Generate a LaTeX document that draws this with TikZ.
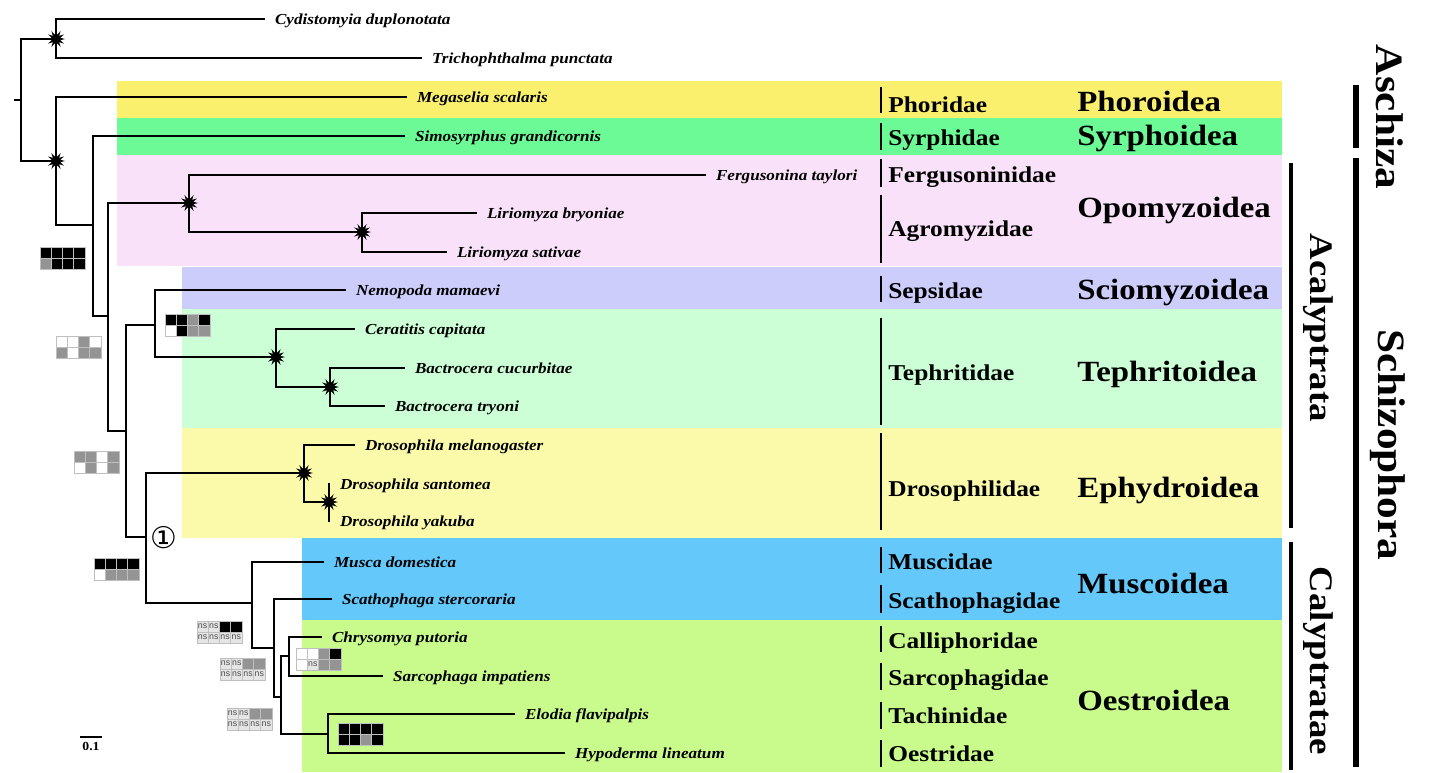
\documentclass[tikz,border=0pt]{standalone}
\usepackage{fontspec}
\setmainfont{Liberation Serif}[FakeStretch=1.12]
\setsansfont{Liberation Sans}
\newfontfamily\circfont{DejaVu Sans}
\usetikzlibrary{shapes.geometric,calc}

\definecolor{bgPhor}{HTML}{FAF06E}
\definecolor{bgSyrp}{HTML}{6CFA96}
\definecolor{bgOpom}{HTML}{F9E2F9}
\definecolor{bgScio}{HTML}{CCCDFB}
\definecolor{bgTeph}{HTML}{CCFFD5}
\definecolor{bgEphy}{HTML}{FAFAAA}
\definecolor{bgMusc}{HTML}{64C8FA}
\definecolor{bgOest}{HTML}{C8FA8C}
\colorlet{cB}{black}
\colorlet{cG}{black!42}
\colorlet{cW}{white}
\colorlet{cN}{black!10}

\tikzset{
  br/.style={line width=1.2pt},
  bstar/.style={star, star points=12, star point ratio=2.1, fill=black, draw=black, line width=0.4pt, inner sep=0, minimum size=0.3cm},
  sp/.style={anchor=west, inner xsep=5.5pt, inner ysep=0, text height=5.7pt, text depth=0pt, font=\fontsize{8.7}{10}\selectfont\bfseries\itshape},
  fam/.style={anchor=base west, inner sep=0, font=\fontsize{12.9}{14}\selectfont\bfseries},
  famb/.style={line width=1.5pt},
  supf/.style={anchor=base west, inner sep=0, font=\fontsize{16.7}{18}\selectfont\bfseries},
  clade/.style={rotate=-90, anchor=base, inner sep=0, font=\fontsize{22}{24}\selectfont\bfseries},
  subclade/.style={rotate=-90, anchor=base, inner sep=0, font=\fontsize{18.7}{20}\selectfont\bfseries},
  cladeb/.style={line width=3pt},
  subcladeb/.style={line width=2.2pt},
  cell/.style={draw=black!25, line width=0.5pt, inner sep=0, minimum width=0.225cm, minimum height=0.22cm}
}

\def\nscode{N}
% support values: 4x2 cells, B black, G grey, W white, N ns
\newcommand{\supgrid}[3]{%
  \foreach \code [count=\i from 0] in {#3}{%
    \pgfmathtruncatemacro{\col}{mod(\i,4)}%
    \pgfmathtruncatemacro{\row}{floor(\i/4)}%
    \ifx\code\nscode
      \node[cell, fill=cN, text=black!70, font=\sffamily\fontsize{5}{5}\selectfont] (#1-\i) at ($(#2)+(\col*11.25+5.6,\row*11+5.5)$) {ns};
    \else
      \node[cell, fill=c\code] (#1-\i) at ($(#2)+(\col*11.25+5.6,\row*11+5.5)$) {};
    \fi
  }}

\begin{document}
\begin{tikzpicture}[x=0.02cm, y=-0.02cm]
\useasboundingbox (0,0) rectangle (1430,772);

\fill[bgPhor] (117,81) rectangle (1282,118);
\fill[bgSyrp] (117,118) rectangle (1282,155);
\fill[bgOpom] (117,155) rectangle (1282,266);
\fill[bgScio] (182,267) rectangle (1282,309);
\fill[bgTeph] (182,309) rectangle (1282,428);
\fill[bgEphy] (182,428) rectangle (1282,538);
\fill[bgMusc] (302,538) rectangle (1282,620);
\fill[bgOest] (302,620) rectangle (1282,772);

\coordinate (stub) at (14,100);
\coordinate (root) at (21,100);
\coordinate (nA) at (56,39);
\coordinate (nB) at (56,161);
\coordinate (nC) at (93,225);
\coordinate (nD) at (108,316);
\coordinate (nF) at (189,203);
\coordinate (nG) at (362,232);
\coordinate (nE) at (126,431);
\coordinate (nH) at (155,325);
\coordinate (nJ) at (276,357);
\coordinate (nK) at (330,387);
\coordinate (nI) at (146,537);
\coordinate (nL) at (304,473);
\coordinate (nM) at (329,502);
\coordinate (nN) at (252,603);
\coordinate (nO) at (274,648);
\coordinate (nP) at (281,697);
\coordinate (nQ) at (289,656);
\coordinate (nR) at (328,734);

\node[sp] (cyd) at (265,19) {Cydistomyia duplonotata};
\node[sp] (tri) at (422,58) {Trichophthalma punctata};
\node[sp] (meg) at (407,97) {Megaselia scalaris};
\node[sp] (sim) at (405,136) {Simosyrphus grandicornis};
\node[sp] (fer) at (706,175) {Fergusonina taylori};
\node[sp] (lbr) at (477,213) {Liriomyza bryoniae};
\node[sp] (lsa) at (447,252) {Liriomyza sativae};
\node[sp] (nem) at (346,290) {Nemopoda mamaevi};
\node[sp] (cer) at (355,329) {Ceratitis capitata};
\node[sp] (bcu) at (405,368) {Bactrocera cucurbitae};
\node[sp] (btr) at (385,406) {Bactrocera tryoni};
\node[sp] (dme) at (355,445) {Drosophila melanogaster};
\node[sp] (dsa) at (330,484) {Drosophila santomea};
\node[sp] (dya) at (330,521) {Drosophila yakuba};
\node[sp] (mdo) at (324,562) {Musca domestica};
\node[sp] (sst) at (332,599) {Scathophaga stercoraria};
\node[sp] (cpu) at (322,637) {Chrysomya putoria};
\node[sp] (sar) at (383,676) {Sarcophaga impatiens};
\node[sp] (efl) at (515,714) {Elodia flavipalpis};
\node[sp] (hli) at (565,753) {Hypoderma lineatum};

\draw[br] (stub) -- (root);
\draw[br] (root) |- (nA);
\draw[br] (root) |- (nB);
\draw[br] (nA) |- (cyd.west);
\draw[br] (nA) |- (tri.west);
\draw[br] (nB) |- (meg.west);
\draw[br] (nB) |- (nC);
\draw[br] (nC) |- (sim.west);
\draw[br] (nC) |- (nD);
\draw[br] (nD) |- (nF);
\draw[br] (nD) |- (nE);
\draw[br] (nF) |- (fer.west);
\draw[br] (nF) |- (nG);
\draw[br] (nG) |- (lbr.west);
\draw[br] (nG) |- (lsa.west);
\draw[br] (nE) |- (nH);
\draw[br] (nE) |- (nI);
\draw[br] (nH) |- (nem.west);
\draw[br] (nH) |- (nJ);
\draw[br] (nJ) |- (cer.west);
\draw[br] (nJ) |- (nK);
\draw[br] (nK) |- (bcu.west);
\draw[br] (nK) |- (btr.west);
\draw[br] (nI) |- (nL);
\draw[br] (nI) |- (nN);
\draw[br] (nL) |- (dme.west);
\draw[br] (nL) |- (nM);
\draw[br] (nM) |- (dsa.west);
\draw[br] (nM) |- (dya.west);
\draw[br] (nN) |- (mdo.west);
\draw[br] (nN) |- (nO);
\draw[br] (nO) |- (sst.west);
\draw[br] (nO) |- (nP);
\draw[br] (nP) |- (nQ);
\draw[br] (nP) |- (nR);
\draw[br] (nQ) |- (cpu.west);
\draw[br] (nQ) |- (sar.west);
\draw[br] (nR) |- (efl.west);
\draw[br] (nR) |- (hli.west);

\node[bstar] (sA) at (nA) {};
\node[bstar] (sB) at (nB) {};
\node[bstar] (sF) at (nF) {};
\node[bstar] (sG) at (nG) {};
\node[bstar] (sJ) at (nJ) {};
\node[bstar] (sK) at (nK) {};
\node[bstar] (sL) at (nL) {};
\node[bstar] (sM) at (nM) {};

\node[font=\circfont\fontsize{17}{17}\selectfont, inner sep=0] (c1) at (164,538) {①};

\supgrid{g1}{40,247}{B,B,B,B,G,B,B,B}
\supgrid{g2}{56,336}{W,W,G,W,G,W,G,G}
\supgrid{g3}{74,451}{G,G,W,G,W,G,W,G}
\supgrid{g4}{94,558}{B,B,B,B,W,G,G,G}
\supgrid{g5}{165,314}{B,B,G,B,W,B,G,G}
\supgrid{g6}{197,621}{N,N,B,B,N,N,N,N}
\supgrid{g7}{220,658}{N,N,G,G,N,N,N,N}
\supgrid{g8}{227,708}{N,N,G,G,N,N,N,N}
\supgrid{g9}{296,648}{W,W,G,B,W,N,G,G}
\supgrid{g10}{338,723}{B,B,B,B,B,B,G,B}

\draw[famb] (881,87) -- (881,113);
\node[fam] (fPho) at (888,112) {Phoridae};
\draw[famb] (881,123) -- (881,150);
\node[fam] (fSyr) at (888,145) {Syrphidae};
\draw[famb] (881,159) -- (881,187);
\node[fam] (fFer) at (888,182) {Fergusoninidae};
\draw[famb] (881,195) -- (881,263);
\node[fam] (fAgr) at (888,236) {Agromyzidae};
\draw[famb] (881,276) -- (881,302);
\node[fam] (fSep) at (888,298) {Sepsidae};
\draw[famb] (881,318) -- (881,425);
\node[fam] (fTep) at (888,380) {Tephritidae};
\draw[famb] (881,433) -- (881,530);
\node[fam] (fDro) at (888,496) {Drosophilidae};
\draw[famb] (881,547) -- (881,573);
\node[fam] (fMus) at (888,569) {Muscidae};
\draw[famb] (881,585) -- (881,613);
\node[fam] (fSca) at (888,608) {Scathophagidae};
\draw[famb] (881,626) -- (881,652);
\node[fam] (fCal) at (888,648) {Calliphoridae};
\draw[famb] (881,663) -- (881,690);
\node[fam] (fSar) at (888,685) {Sarcophagidae};
\draw[famb] (881,702) -- (881,729);
\node[fam] (fTac) at (888,723) {Tachinidae};
\draw[famb] (881,740) -- (881,767);
\node[fam] (fOes) at (888,761) {Oestridae};

\node[supf] (uPho) at (1077,111) {Phoroidea};
\node[supf] (uSyr) at (1077,145) {Syrphoidea};
\node[supf] (uOpo) at (1077,217) {Opomyzoidea};
\node[supf] (uSci) at (1077,299) {Sciomyzoidea};
\node[supf] (uTep) at (1077,381) {Tephritoidea};
\node[supf] (uEph) at (1077,497) {Ephydroidea};
\node[supf] (uMus) at (1077,593) {Muscoidea};
\node[supf] (uOes) at (1077,710) {Oestroidea};

\draw[cladeb] (1356,85) -- (1356,148);
\draw[cladeb] (1356,158) -- (1356,767);
\draw[subcladeb] (1291,163) -- (1291,528);
\draw[subcladeb] (1291,542) -- (1291,770);
\node[clade] (asch) at (1376,117) {Aschiza};
\node[clade] (schi) at (1378,445) {Schizophora};
\node[subclade] (acal) at (1310,328) {Acalyptrata};
\node[subclade] (caly) at (1310,661) {Calyptratae};

\coordinate (sb1) at (80,737);
\coordinate (sb2) at (102,737);
\draw[line width=1.2pt] (sb1) -- (sb2);
\node[anchor=north, inner sep=0, font=\fontsize{7}{8}\selectfont\bfseries] (sbl) at (91,742) {0.1};
\end{tikzpicture}
\end{document}
